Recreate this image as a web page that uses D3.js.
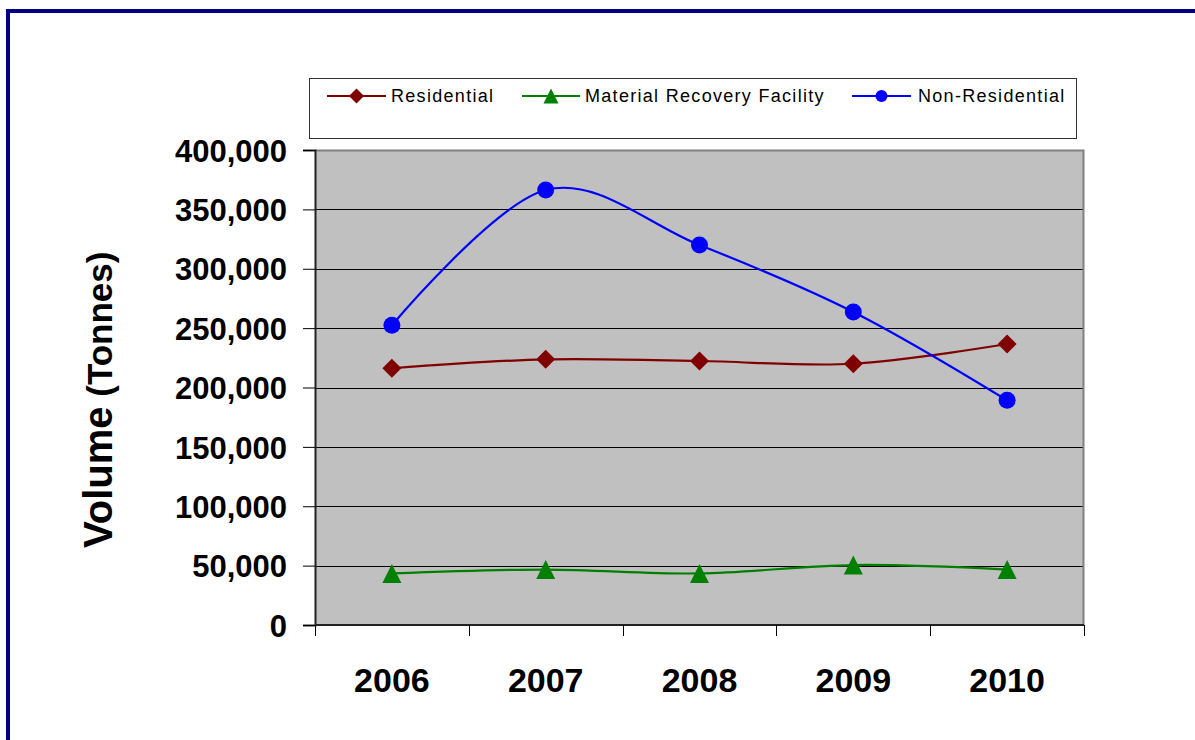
<!DOCTYPE html>
<html>
<head>
<meta charset="utf-8">
<script src="https://cdn.jsdelivr.net/npm/d3@7"></script>
<style>
  html, body { margin: 0; padding: 0; background: #ffffff; }
  svg { display: block; }
  text { font-family: "Liberation Sans", Arial, sans-serif; }
</style>
</head>
<body>
<svg id="chart" width="1195" height="740"></svg>
<script>
// Annual volumes by source, in tonnes
const years = ["2006", "2007", "2008", "2009", "2010"];
const residential = [216200, 223700, 222300, 220000, 236600];
const materialRecovery = [43400, 46700, 43400, 50500, 46700];
const nonResidential = [252400, 366300, 320000, 263600, 189200];
const yTicks = [0, 50000, 100000, 150000, 200000, 250000, 300000, 350000, 400000];

const series = [
  { name: "Residential", values: residential, color: "#800000", marker: "diamond" },
  { name: "Material Recovery Facility", values: materialRecovery, color: "#008000", marker: "triangle" },
  { name: "Non-Residential", values: nonResidential, color: "#0000ff", marker: "circle" }
];

const svg = d3.select("#chart");

// Outer navy frame
svg.append("rect")
  .attr("x", 8).attr("y", 11)
  .attr("width", 1400).attr("height", 1000)
  .attr("fill", "none")
  .attr("stroke", "#000080")
  .attr("stroke-width", 4);

const plot = { left: 315, right: 1084, top: 150, bottom: 625 };

const x = d3.scaleBand().domain(years).range([plot.left, plot.right]).padding(0);
const y = d3.scaleLinear().domain([0, 400000]).range([plot.bottom, plot.top]);
const cx = d => x(d) + x.bandwidth() / 2;

// Plot background
svg.append("rect")
  .attr("x", plot.left).attr("y", plot.top)
  .attr("width", plot.right - plot.left).attr("height", plot.bottom - plot.top)
  .attr("fill", "#c0c0c0");

// Horizontal gridlines
svg.append("g")
  .selectAll("line")
  .data(yTicks.filter(t => t > 0 && t < 400000))
  .join("line")
  .attr("x1", plot.left).attr("x2", plot.right)
  .attr("y1", d => Math.round(y(d)) + 0.5).attr("y2", d => Math.round(y(d)) + 0.5)
  .attr("stroke", "#000").attr("stroke-width", 1);

// Plot frame (top and right edges)
svg.append("path")
  .attr("d", `M${plot.left},${plot.top + 0.5}H${plot.right - 0.5}V${plot.bottom}`)
  .attr("fill", "none").attr("stroke", "#808080").attr("stroke-width", 2);

// Y axis
const yAxis = d3.axisLeft(y).tickValues(yTicks).tickSize(12).tickPadding(16)
  .tickFormat(d3.format(","));
const gy = svg.append("g").attr("transform", `translate(${plot.left},0)`).call(yAxis);
gy.select(".domain").attr("stroke", "#222").attr("stroke-width", 2);
gy.selectAll(".tick line").attr("stroke", "#000");
gy.selectAll(".tick text")
  .attr("fill", "#000")
  .style("font-size", "31px")
  .style("font-weight", "bold")
  .attr("dy", "0.36em");

// X axis with ticks between categories
const gx = svg.append("g").attr("transform", `translate(0,${plot.bottom})`);
gx.append("line")
  .attr("x1", plot.left).attr("x2", plot.right)
  .attr("y1", 0).attr("y2", 0)
  .attr("stroke", "#222").attr("stroke-width", 2);
const boundaries = years.map(d => x(d)).concat([plot.right]);
gx.selectAll("line.tk")
  .data(boundaries)
  .join("line")
  .attr("class", "tk")
  .attr("x1", d => Math.round(d) + 0.5).attr("x2", d => Math.round(d) + 0.5)
  .attr("y1", 0).attr("y2", 11)
  .attr("stroke", "#000");
gx.selectAll("text")
  .data(years)
  .join("text")
  .attr("x", d => cx(d))
  .attr("y", 67)
  .attr("text-anchor", "middle")
  .style("font-size", "34px")
  .style("font-weight", "bold")
  .text(d => d);

// Y axis title
svg.append("text")
  .attr("transform", "translate(112,548) rotate(-90)")
  .attr("text-anchor", "start")
  .style("font-weight", "bold")
  .call(t => {
    t.append("tspan").style("font-size", "40px").text("Volume");
    t.append("tspan").style("font-size", "35px").text(" (Tonnes)");
  });

// Marker shapes
function drawMarker(g, type, px, py, size, color) {
  if (type === "diamond") {
    const h = size / 2;
    g.append("path")
      .attr("d", `M${px},${py - h}L${px + h},${py}L${px},${py + h}L${px - h},${py}Z`)
      .attr("fill", color);
  } else if (type === "triangle") {
    const h = size / 2;
    g.append("path")
      .attr("d", `M${px},${py - h}L${px + h},${py + h}L${px - h},${py + h}Z`)
      .attr("fill", color);
  } else {
    g.append("circle").attr("cx", px).attr("cy", py).attr("r", size / 2).attr("fill", color);
  }
}

// Smoothed series lines with markers
const line = d3.line()
  .x((d, i) => cx(years[i]))
  .y(d => y(d))
  .curve(d3.curveCatmullRom.alpha(0));

series.forEach(s => {
  const g = svg.append("g");
  g.append("path")
    .datum(s.values)
    .attr("d", line)
    .attr("fill", "none")
    .attr("stroke", s.color)
    .attr("stroke-width", 2.2);
  s.values.forEach((v, i) => {
    const size = s.marker === "circle" ? 17 : 19;
    drawMarker(g, s.marker, cx(years[i]), y(v), size, s.color);
  });
});

// Legend
const legend = svg.append("g");
legend.append("rect")
  .attr("x", 309.5).attr("y", 78.5)
  .attr("width", 767).attr("height", 60)
  .attr("fill", "#fff").attr("stroke", "#333").attr("stroke-width", 1);

const legendItems = [
  { s: series[0], x0: 327, x1: 386, tx: 391 },
  { s: series[1], x0: 522, x1: 580, tx: 585 },
  { s: series[2], x0: 852, x1: 911, tx: 918 }
];
const ly = 96;
legendItems.forEach(it => {
  const g = legend.append("g");
  g.append("line")
    .attr("x1", it.x0).attr("x2", it.x1)
    .attr("y1", ly).attr("y2", ly)
    .attr("stroke", it.s.color).attr("stroke-width", 2);
  const mid = (it.x0 + it.x1) / 2;
  const size = it.s.marker === "circle" ? 12 : 15;
  drawMarker(g, it.s.marker, mid, ly, size, it.s.color);
  g.append("text")
    .attr("x", it.tx).attr("y", ly + 5.5)
    .style("font-size", "18px")
    .style("letter-spacing", "1.3px")
    .attr("fill", "#000")
    .text(it.s.name);
});
</script>
</body>
</html>
